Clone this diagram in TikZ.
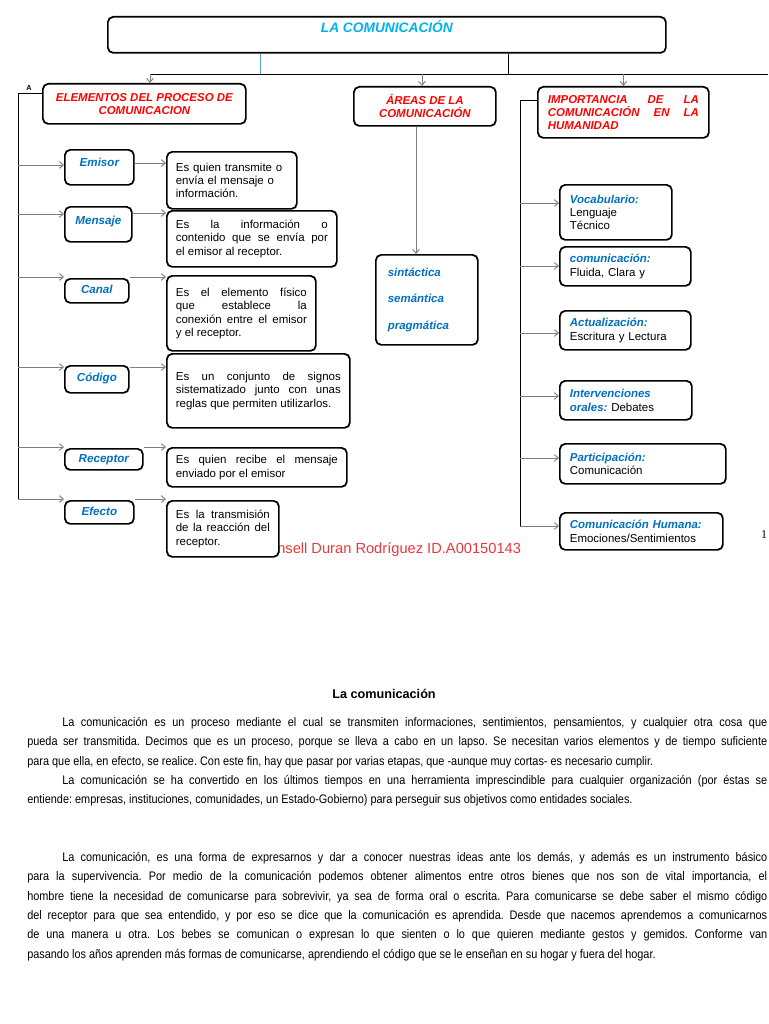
\documentclass[tikz,border=0pt]{standalone}
\usepackage{fontspec}
\setmainfont{Liberation Sans}
\newfontfamily\serifnum{Liberation Serif}
\newfontfamily\bodyfont[FakeStretch=0.88]{Liberation Sans}
\usetikzlibrary{arrows.meta,positioning}
\definecolor{titleblue}{HTML}{00B0F0}
\definecolor{lblblue}{HTML}{0070C0}
\definecolor{headred}{HTML}{FF0000}
\definecolor{namered}{HTML}{E8393B}
\definecolor{wire}{HTML}{7F7F7F}
\definecolor{stemblue}{HTML}{5B9BD5}
\tikzset{>={Straight Barb[length=3pt,width=5pt]},
  box/.style={draw,line width=1.3pt,rounded corners=4pt,anchor=north west,inner sep=0pt,fill=white},
  head/.style={box,text=headred,font=\fontsize{8.6}{9.6}\selectfont\bfseries\itshape},
  lbl/.style={box,text=lblblue,text height=6.5pt,text depth=2pt,font=\fontsize{8.7}{10}\selectfont\bfseries\itshape},
  desc/.style={box,inner xsep=6.75pt,align=justify,font=\fontsize{8.6}{10}\selectfont},
  item/.style={box,inner xsep=7.5pt,align=left,font=\fontsize{8.6}{10}\selectfont},
  trunk/.style={draw=black,line width=.7pt},
  branch/.style={->,draw=wire,line width=.7pt},
  body/.style={anchor=north west,inner sep=0pt,text width=555pt,align=justify,font=\bodyfont\fontsize{9.3}{14.5}\selectfont}}
\newcommand\lb[1]{\textcolor{lblblue}{\bfseries\itshape #1}}
\frenchspacing
\begin{document}
\begin{tikzpicture}[x=.75pt,y=-.75pt]
\useasboundingbox (0,0) rectangle (768,1024);
\node[anchor=west,inner sep=0pt,text=namered,font=\fontsize{11}{13}\selectfont] (autor) at (277,550) {nsell Duran Rodríguez ID.A00150143};
% cabecera
\node[box,minimum width=418.5pt,minimum height=27pt,text height=7.5pt,text depth=11pt,text=titleblue,font=\fontsize{10.3}{12}\selectfont\bfseries\itshape] (titulo) at (107,16) {LA COMUNICACIÓN};
\node[head,minimum width=152.25pt,minimum height=30pt,align=center] (elementos) at (42,83) {ELEMENTOS DEL PROCESO DE\\COMUNICACION};
\node[head,minimum width=106.5pt,minimum height=29.25pt,align=center] (areas) at (353,86) {ÁREAS DE LA\\COMUNICACIÓN};
\node[head,text width=113.25pt,inner xsep=7.5pt,minimum height=38.25pt,align=justify] (importancia) at (537,86) {IMPORTANCIA DE LA\linebreak COMUNICACIÓN EN LA\linebreak HUMANIDAD};
% elementos
\node[lbl,minimum width=51.75pt,minimum height=26.25pt,text depth=8.5pt] (emisor) at (64,149) {Emisor};
\node[lbl,minimum width=50.25pt,minimum height=26.25pt,text depth=7pt] (mensaje) at (64,206) {Mensaje};
\node[lbl,minimum width=48pt,minimum height=18pt] (canal) at (64,278) {Canal};
\node[lbl,minimum width=48pt,minimum height=20.25pt,text depth=4pt] (codigo) at (64,365) {Código};
\node[lbl,minimum width=58.5pt,minimum height=15.75pt] (receptor) at (64,448) {Receptor};
\node[lbl,minimum width=51.75pt,minimum height=17.25pt] (efecto) at (64,500) {Efecto};
\node[desc,align=left,text width=84pt,minimum height=42.75pt] (d1) at (166,151) {Es quien transmite o\\envía el mensaje o\\información.};
\node[desc,text width=114pt,minimum height=42pt] (d2) at (166,210) {Es la información o\linebreak contenido que se envía por\linebreak el emisor al receptor.};
\node[desc,text width=98.25pt,minimum height=56.25pt] (d3) at (166,275) {Es el elemento físico\linebreak que establece la\linebreak conexión entre el emisor\linebreak y el receptor.};
\node[desc,text width=123.75pt,minimum height=55.5pt] (d4) at (166,353) {Es un conjunto de signos\linebreak sistematizado junto con unas\linebreak reglas que permiten utilizarlos.};
\node[desc,text width=121.5pt,minimum height=29.25pt] (d5) at (166,447) {Es quien recibe el mensaje\linebreak enviado por el emisor};
\node[desc,text width=70.5pt,minimum height=42pt] (d6) at (166,500) {Es la transmisión\linebreak de la reacción del\linebreak receptor.};
% areas
\node[item,inner xsep=9pt,text width=58.5pt,minimum height=67.5pt] (sintaxis) at (375,254) {\lb{sintáctica}\\[10pt]\lb{semántica}\\[10pt]\lb{pragmática}};
% importancia
\node[item,text width=69pt,minimum height=41.25pt] (vocab) at (559,184) {\lb{Vocabulario:}\\Lenguaje\\Técnico};
\node[item,text width=83.25pt,minimum height=29.25pt] (fluidez) at (559,246) {\lb{comunicación:}\\Fluida, Clara y};
\node[item,text width=83.25pt,minimum height=29.25pt] (actual) at (559,310) {\lb{Actualización:}\\Escritura y Lectura};
\node[item,text width=84pt,minimum height=29.25pt] (interv) at (559,380) {\lb{Intervenciones}\\\lb{orales:} Debates};
\node[item,text width=109.5pt,minimum height=30pt] (partic) at (559,443) {\lb{Participación:}\\Comunicación};
\node[item,text width=107.25pt,minimum height=27.75pt] (humana) at (559,512) {\lb{Comunicación Humana:}\\Emociones/Sentimientos};
% conectores
\coordinate (j1) at (150,74); \coordinate (hl) at (768,74);
\coordinate (s1) at (260,74); \coordinate (s2) at (508,74); \coordinate (j2) at (422,74);
\draw[draw=stemblue,line width=.6pt] (titulo.south -| s1) -- (s1);
\draw[trunk] (titulo.south -| s2) -- (s2);
\draw[trunk] (j1) -- (hl);
\draw[branch] (j1) -- (j1 |- elementos.north);
\draw[branch] (j2) -- (j2 |- areas.north);
\draw[branch] (importancia.north |- hl) -- (importancia.north);
\coordinate (av) at (416,0);
\draw[branch] (areas.south -| av) -- (sintaxis.north -| av);
\coordinate (lt) at (18,93); \coordinate (lbot) at (18,499);
\draw[trunk] (elementos.west |- lt) -- (lt) -- (lbot);
\node[font=\fontsize{5.5}{6}\selectfont\bfseries,inner sep=0pt] (marca) at (29,88) {A};
\foreach \n/\d/\a/\b in {emisor/d1/165/163,mensaje/d2/214/213,canal/d3/277/277,codigo/d4/367/367,receptor/d5/447/447,efecto/d6/499/499}{
  \coordinate (ya) at (18,\a); \coordinate (yb) at (0,\b);
  \draw[branch] (ya) -- (\n.west |- ya);
  \draw[branch] (\n.east |- yb) -- (\d.west |- yb);}
\coordinate (rt) at (520,100); \coordinate (rbot) at (520,526);
\draw[trunk] (importancia.west |- rt) -- (rt) -- (rbot);
\foreach \n/\a in {vocab/203,fluidez/266,actual/333,interv/396,partic/458,humana/526}{
  \coordinate (ya) at (520,\a);
  \draw[branch] (ya) -- (\n.west |- ya);}
\node[font=\serifnum\fontsize{9}{10}\selectfont,inner sep=0pt] (pagina) at (764,535) {1};
% texto
\node[font=\fontsize{9.5}{11}\selectfont\bfseries,inner sep=0pt] (encabezado) at (384,694) {La comunicación};
\node[body] (parrafoA) at (27,717) {\hspace*{26.25pt}La comunicación es un proceso mediante el cual se transmiten informaciones, sentimientos, pensamientos, y cualquier otra cosa que\linebreak pueda ser transmitida. Decimos que es un proceso, porque se lleva a cabo en un lapso. Se necesitan varios elementos y de tiempo suficiente\linebreak para que ella, en efecto, se realice. Con este fin, hay que pasar por varias etapas, que -aunque muy cortas- es necesario cumplir.\par
\hspace*{26.25pt}La comunicación se ha convertido en los últimos tiempos en una herramienta imprescindible para cualquier organización (por éstas se\linebreak entiende: empresas, instituciones, comunidades, un Estado-Gobierno) para perseguir sus objetivos como entidades sociales.};
\node[body] (parrafoB) at (27,852) {\hspace*{26.25pt}La comunicación, es una forma de expresarnos y dar a conocer nuestras ideas ante los demás, y además es un instrumento básico\linebreak para la supervivencia. Por medio de la comunicación podemos obtener alimentos entre otros bienes que nos son de vital importancia, el\linebreak hombre tiene la necesidad de comunicarse para sobrevivir, ya sea de forma oral o escrita. Para comunicarse se debe saber el mismo código\linebreak del receptor para que sea entendido, y por eso se dice que la comunicación es aprendida. Desde que nacemos aprendemos a comunicarnos\linebreak de una manera u otra. Los bebes se comunican o expresan lo que sienten o lo que quieren mediante gestos y gemidos. Conforme van\linebreak pasando los años aprenden más formas de comunicarse, aprendiendo el código que se le enseñan en su hogar y fuera del hogar.};
\end{tikzpicture}
\end{document}
